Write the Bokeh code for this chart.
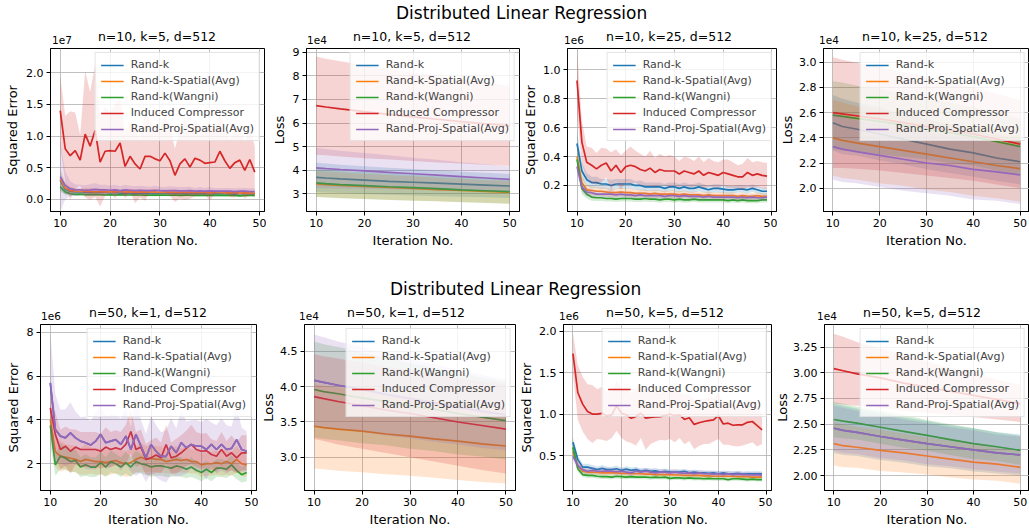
from bokeh.plotting import figure
from bokeh.models import Range1d, FixedTicker, NumeralTickFormatter, Div
from bokeh.layouts import row, column
from bokeh.embed import file_html
from bokeh.resources import INLINE

FONT = "DejaVu Sans"
NAMES = ["Rand-k", "Rand-k-Spatial(Avg)", "Rand-k(Wangni)", "Induced Compressor", "Rand-Proj-Spatial(Avg)"]
COLORS = ["#1f77b4", "#ff7f0e", "#2ca02c", "#d62728", "#9467bd"]
SUPTITLE = "Distributed Linear Regression"

# iterations for squared-error panels and for loss panels
iters_se = list(range(10, 50))
iters_loss = [10, 12, 15, 20, 25, 30, 35, 40, 45, 50]

# ---------------- Panel 1: n=10, k=5 squared error (x1e7) ----------------
p1_blue = [0.30,0.16,0.13,0.12,0.12,0.115,0.11,0.12,0.11,0.11,
           0.105,0.11,0.10,0.105,0.10,0.10,0.105,0.10,0.10,0.095,
           0.10,0.10,0.095,0.10,0.095,0.09,0.095,0.09,0.095,0.09,
           0.09,0.095,0.09,0.09,0.09,0.085,0.09,0.09,0.09,0.09]
p1_orange = [0.32,0.18,0.14,0.13,0.125,0.13,0.125,0.12,0.125,0.12,
             0.12,0.12,0.125,0.115,0.12,0.115,0.12,0.115,0.115,0.12,
             0.11,0.115,0.11,0.115,0.11,0.11,0.115,0.11,0.11,0.11,
             0.105,0.11,0.11,0.105,0.105,0.11,0.10,0.105,0.10,0.10]
p1_green = [0.20,0.12,0.09,0.08,0.085,0.075,0.075,0.08,0.075,0.07,
            0.075,0.07,0.075,0.07,0.07,0.072,0.07,0.068,0.07,0.068,
            0.07,0.068,0.066,0.07,0.065,0.068,0.066,0.065,0.066,0.065,
            0.066,0.064,0.065,0.063,0.064,0.062,0.055,0.062,0.065,0.065]
p1_red = [1.40,0.80,0.69,0.77,0.62,1.03,0.84,1.09,0.59,0.76,
          0.77,0.76,0.89,0.52,0.68,0.56,0.48,0.68,0.68,0.64,
          0.61,0.73,0.61,0.38,0.56,0.64,0.51,0.65,0.62,0.57,
          0.58,0.59,0.76,0.61,0.49,0.58,0.62,0.46,0.63,0.43]
p1_purple = [0.36,0.22,0.17,0.15,0.15,0.145,0.15,0.16,0.15,0.15,
             0.145,0.15,0.14,0.15,0.145,0.14,0.145,0.14,0.14,0.145,
             0.14,0.135,0.14,0.14,0.135,0.135,0.14,0.13,0.135,0.13,
             0.135,0.13,0.13,0.13,0.13,0.125,0.13,0.13,0.125,0.125]
p1_blue_sd = [0.15,0.08,0.05,0.05,0.04,0.04,0.04,0.05,0.04,0.04,
              0.04,0.04,0.045,0.04,0.04,0.04,0.04,0.04,0.035,0.035,
              0.035,0.04,0.035,0.035,0.035,0.03,0.035,0.03,0.03,0.03,
              0.03,0.03,0.03,0.035,0.03,0.03,0.03,0.03,0.03,0.03]
p1_orange_sd = [0.16,0.09,0.06,0.05,0.05,0.05,0.05,0.05,0.045,0.045,
                0.045,0.045,0.045,0.04,0.045,0.04,0.04,0.04,0.04,0.04,
                0.04,0.04,0.04,0.04,0.035,0.035,0.04,0.035,0.035,0.035,
                0.035,0.035,0.035,0.035,0.03,0.035,0.03,0.03,0.03,0.03]
p1_green_sd = [0.08,0.04,0.03,0.025,0.025,0.025,0.025,0.025,0.02,0.02,
               0.02,0.02,0.022,0.02,0.02,0.02,0.02,0.02,0.02,0.02,
               0.02,0.018,0.02,0.02,0.02,0.02,0.018,0.02,0.02,0.018,
               0.02,0.018,0.018,0.02,0.018,0.018,0.018,0.018,0.018,0.018]
p1_red_sd = [0.55,0.52,0.70,0.60,0.40,1.00,0.85,1.05,0.70,0.70,
             0.60,0.75,0.70,0.50,0.55,0.62,0.45,0.70,0.55,0.52,
             0.45,0.60,0.55,0.42,0.55,0.65,0.50,0.60,0.55,0.50,
             0.60,0.50,0.62,0.50,0.45,0.55,0.50,0.45,0.55,0.40]
p1_purple_sd = [0.55,0.22,0.12,0.09,0.08,0.08,0.09,0.10,0.08,0.08,
                0.07,0.08,0.07,0.08,0.07,0.07,0.07,0.07,0.06,0.07,
                0.06,0.06,0.07,0.06,0.06,0.06,0.06,0.05,0.06,0.05,
                0.06,0.05,0.05,0.05,0.05,0.05,0.05,0.05,0.05,0.05]

# ---------------- Panel 2: n=10, k=5 loss (x1e4) ----------------
p2_blue = [3.70,3.67,3.63,3.58,3.53,3.49,3.45,3.41,3.37,3.33]
p2_orange = [3.42,3.39,3.36,3.31,3.27,3.23,3.18,3.14,3.10,3.06]
p2_green = [3.46,3.43,3.39,3.35,3.30,3.26,3.22,3.17,3.13,3.09]
p2_red = [6.74,6.68,6.60,6.48,6.37,6.26,6.16,6.06,5.97,5.88]
p2_purple = [4.10,4.07,4.03,3.97,3.91,3.85,3.79,3.73,3.67,3.61]
p2_blue_sd = [0.62,0.61,0.60,0.59,0.57,0.56,0.55,0.53,0.52,0.51]
p2_orange_sd = [0.55,0.54,0.54,0.53,0.52,0.51,0.50,0.49,0.48,0.48]
p2_green_sd = [0.60,0.59,0.58,0.57,0.56,0.55,0.54,0.53,0.52,0.51]
p2_red_sd = [2.08,2.05,2.02,1.97,1.92,1.87,1.83,1.78,1.74,1.70]
p2_purple_sd = [0.85,0.83,0.80,0.76,0.72,0.68,0.65,0.61,0.58,0.55]

# ---------------- Panel 3: n=10, k=25 squared error (x1e6) ----------------
p3_blue = [0.49,0.30,0.24,0.22,0.22,0.21,0.21,0.20,0.21,0.21,
           0.21,0.21,0.20,0.20,0.19,0.19,0.19,0.19,0.18,0.19,
           0.19,0.18,0.19,0.18,0.18,0.19,0.18,0.17,0.18,0.18,
           0.175,0.17,0.17,0.175,0.175,0.17,0.18,0.17,0.16,0.16]
p3_orange = [0.40,0.22,0.17,0.165,0.16,0.16,0.155,0.15,0.15,0.155,
             0.15,0.15,0.145,0.145,0.145,0.14,0.145,0.14,0.14,0.14,
             0.14,0.135,0.14,0.135,0.135,0.135,0.13,0.135,0.13,0.13,
             0.13,0.13,0.13,0.125,0.13,0.125,0.125,0.13,0.125,0.125]
p3_green = [0.38,0.18,0.14,0.12,0.115,0.115,0.11,0.11,0.105,0.11,
            0.11,0.11,0.105,0.105,0.11,0.105,0.105,0.10,0.105,0.105,
            0.10,0.105,0.10,0.10,0.105,0.10,0.10,0.10,0.10,0.10,
            0.10,0.095,0.10,0.095,0.10,0.095,0.095,0.095,0.10,0.10]
p3_red = [0.926,0.50,0.36,0.34,0.315,0.34,0.355,0.30,0.34,0.29,
          0.33,0.34,0.33,0.31,0.30,0.32,0.29,0.31,0.30,0.30,
          0.30,0.28,0.30,0.29,0.28,0.30,0.27,0.29,0.28,0.27,
          0.29,0.28,0.27,0.26,0.26,0.29,0.27,0.28,0.27,0.265]
p3_purple = [0.33,0.19,0.155,0.15,0.14,0.14,0.14,0.14,0.135,0.14,
             0.135,0.135,0.13,0.135,0.13,0.13,0.13,0.13,0.125,0.13,
             0.13,0.125,0.13,0.125,0.125,0.125,0.12,0.125,0.12,0.12,
             0.12,0.12,0.12,0.115,0.12,0.115,0.12,0.115,0.115,0.12]
p3_blue_sd = [0.09,0.06,0.045,0.04,0.04,0.035,0.035,0.04,0.035,0.035,
              0.035,0.035,0.03,0.035,0.03,0.03,0.03,0.03,0.03,0.03,
              0.03,0.03,0.03,0.03,0.03,0.03,0.028,0.028,0.028,0.028,
              0.028,0.028,0.026,0.026,0.026,0.026,0.026,0.025,0.025,0.025]
p3_orange_sd = [0.07,0.05,0.035,0.03,0.03,0.03,0.03,0.028,0.028,0.028,
                0.028,0.028,0.027,0.027,0.027,0.026,0.026,0.026,0.025,0.025,
                0.025,0.025,0.025,0.024,0.024,0.024,0.024,0.024,0.023,0.023,
                0.023,0.023,0.023,0.022,0.022,0.022,0.022,0.022,0.022,0.022]
p3_green_sd = [0.06,0.04,0.03,0.025,0.022,0.022,0.02,0.02,0.02,0.02,
               0.02,0.02,0.02,0.02,0.02,0.019,0.019,0.019,0.019,0.019,
               0.019,0.019,0.019,0.018,0.018,0.018,0.018,0.018,0.018,0.018,
               0.018,0.018,0.018,0.018,0.018,0.018,0.018,0.018,0.018,0.018]
p3_red_sd = [0.22,0.15,0.11,0.12,0.11,0.12,0.10,0.13,0.11,0.12,
             0.11,0.13,0.11,0.11,0.10,0.12,0.10,0.11,0.10,0.11,
             0.10,0.09,0.10,0.10,0.09,0.10,0.09,0.10,0.09,0.09,
             0.09,0.10,0.09,0.08,0.09,0.10,0.09,0.09,0.09,0.09]
p3_purple_sd = [0.05,0.035,0.03,0.028,0.025,0.025,0.025,0.025,0.024,0.024,
                0.024,0.024,0.023,0.023,0.023,0.023,0.022,0.022,0.022,0.022,
                0.022,0.022,0.021,0.021,0.021,0.021,0.021,0.02,0.02,0.02,
                0.02,0.02,0.02,0.02,0.02,0.02,0.02,0.02,0.02,0.02]

# ---------------- Panel 4: n=10, k=25 loss (x1e4) ----------------
p4_blue = [2.52,2.49,2.47,2.43,2.39,2.35,2.31,2.28,2.24,2.21]
p4_orange = [2.40,2.38,2.36,2.33,2.30,2.27,2.24,2.21,2.18,2.155]
p4_green = [2.58,2.57,2.555,2.53,2.50,2.47,2.44,2.41,2.37,2.33]
p4_red = [2.60,2.59,2.575,2.55,2.52,2.49,2.46,2.43,2.39,2.35]
p4_purple = [2.33,2.31,2.29,2.26,2.23,2.20,2.18,2.15,2.13,2.105]
p4_blue_sd = [0.22,0.22,0.21,0.21,0.20,0.20,0.19,0.19,0.18,0.18]
p4_orange_sd = [0.30,0.30,0.29,0.29,0.28,0.28,0.27,0.27,0.26,0.26]
p4_green_sd = [0.27,0.27,0.26,0.26,0.25,0.24,0.24,0.23,0.23,0.22]
p4_red_sd = [0.44,0.43,0.42,0.41,0.40,0.39,0.38,0.37,0.36,0.35]
p4_purple_sd = [0.26,0.26,0.25,0.25,0.25,0.24,0.24,0.24,0.23,0.23]

# ---------------- Panel 5: n=50, k=1 squared error (x1e6) ----------------
# Rand-k lies under Rand-Proj-Spatial(Avg) in the k=1 panels (no separate band visible)
p5_blue = [5.69,3.56,3.26,3.18,3.41,3.18,3.03,2.96,2.85,3.03,
           3.34,2.96,3.03,3.10,2.88,3.26,2.65,3.34,2.80,2.27,
           2.88,2.57,2.34,2.34,2.80,2.50,2.96,2.73,2.88,2.80,
           2.80,2.65,2.88,2.65,2.88,2.65,2.70,3.10,2.65,2.57]
p5_blue_sd = []
p5_purple = [5.69,3.56,3.26,3.18,3.41,3.18,3.03,2.96,2.85,3.03,
             3.34,2.96,3.03,3.10,2.88,3.26,2.65,3.34,2.80,2.27,
             2.88,2.57,2.34,2.34,2.80,2.50,2.96,2.73,2.88,2.80,
             2.80,2.65,2.88,2.65,2.88,2.65,2.70,3.10,2.65,2.57]
p5_red = [4.55,3.34,2.65,2.80,2.57,2.76,2.65,2.65,2.65,2.65,
          2.57,2.76,2.65,2.73,2.65,2.88,3.47,2.65,2.76,2.20,
          2.27,2.40,2.27,2.88,2.27,2.34,2.50,2.70,2.88,2.65,
          2.57,2.60,2.42,2.34,2.65,2.34,2.50,2.27,2.50,2.50]
p5_orange = [4.00,2.55,2.35,2.30,2.25,2.20,2.10,2.20,2.15,2.10,
             2.10,2.05,2.10,2.15,2.05,2.00,2.05,2.20,2.30,2.20,
             2.25,2.20,2.20,2.10,2.15,2.20,2.15,2.20,2.10,2.10,
             1.95,2.00,2.00,2.05,2.00,2.10,2.00,2.20,2.00,1.95]
p5_green = [3.75,1.95,2.35,2.25,2.10,2.15,1.85,1.95,1.85,1.85,
            2.05,1.85,2.10,2.00,1.85,2.05,1.85,2.10,2.00,1.95,
            1.85,1.90,1.90,1.85,1.80,1.90,1.85,1.75,1.85,1.70,
            1.60,1.75,1.60,1.80,1.80,1.75,1.95,1.70,1.50,1.60]
p5_purple_sd = [2.3,1.6,1.2,1.3,1.4,1.2,1.1,1.2,1.1,1.3,
                1.3,1.2,1.2,1.1,1.2,1.3,1.0,1.9,1.2,1.1,
                1.3,1.2,1.1,1.2,1.3,1.1,1.5,1.2,1.1,1.2,
                1.1,1.4,1.0,1.1,1.2,1.1,1.0,1.5,1.0,0.9]
p5_red_sd = [1.0,1.0,0.9,0.9,1.0,0.8,0.8,0.8,0.8,0.8,
             0.8,0.9,0.8,0.8,0.8,0.9,1.0,0.8,0.8,0.7,
             0.8,0.8,0.7,0.9,0.7,0.8,0.8,0.8,0.9,0.8,
             0.8,0.8,0.7,0.7,0.8,0.7,0.8,0.7,0.8,0.8]
p5_orange_sd = [0.8,0.7,0.7,0.6,0.6,0.6,0.6,0.7,0.6,0.6,
                0.6,0.6,0.6,0.6,0.55,0.6,0.6,0.6,0.65,0.6,
                0.6,0.6,0.6,0.55,0.6,0.6,0.55,0.6,0.55,0.55,
                0.55,0.55,0.55,0.55,0.55,0.6,0.55,0.6,0.55,0.55]
p5_green_sd = [0.9,0.5,0.6,0.5,0.5,0.5,0.45,0.5,0.45,0.45,
               0.5,0.45,0.5,0.45,0.45,0.5,0.45,0.5,0.45,0.45,
               0.45,0.45,0.45,0.45,0.4,0.45,0.45,0.4,0.45,0.4,
               0.4,0.4,0.4,0.4,0.4,0.4,0.45,0.4,0.35,0.4]

# ---------------- Panel 6: n=50, k=1 loss (x1e4) ----------------
p6_blue = [4.09,4.06,4.02,3.96,3.89,3.83,3.77,3.71,3.65,3.60]
p6_blue_sd = []
p6_orange = [3.44,3.42,3.40,3.37,3.33,3.30,3.26,3.23,3.19,3.16]
p6_green = [3.96,3.93,3.90,3.84,3.79,3.73,3.68,3.62,3.57,3.52]
p6_red = [3.86,3.83,3.79,3.73,3.67,3.62,3.56,3.50,3.45,3.40]
p6_purple = [4.09,4.06,4.02,3.96,3.89,3.83,3.77,3.71,3.65,3.60]
p6_orange_sd = [0.60,0.59,0.59,0.58,0.57,0.56,0.55,0.55,0.54,0.53]
p6_green_sd = [0.68,0.67,0.66,0.64,0.62,0.61,0.59,0.58,0.56,0.55]
p6_red_sd = [0.60,0.60,0.61,0.61,0.61,0.62,0.62,0.62,0.63,0.63]
p6_purple_sd = [0.65,0.64,0.62,0.60,0.58,0.56,0.55,0.53,0.52,0.50]

# ---------------- Panel 7: n=50, k=5 squared error (x1e6) ----------------
p7_blue = [0.66,0.45,0.36,0.36,0.345,0.33,0.345,0.33,0.33,0.34,
           0.32,0.335,0.32,0.33,0.31,0.32,0.31,0.315,0.30,0.31,
           0.30,0.30,0.30,0.31,0.29,0.30,0.29,0.29,0.285,0.29,
           0.28,0.29,0.28,0.28,0.285,0.275,0.28,0.28,0.28,0.28]
p7_orange = [0.55,0.38,0.31,0.30,0.30,0.295,0.29,0.29,0.29,0.29,
             0.285,0.285,0.28,0.28,0.28,0.275,0.275,0.27,0.27,0.27,
             0.27,0.265,0.265,0.26,0.26,0.26,0.26,0.255,0.255,0.25,
             0.25,0.25,0.25,0.25,0.245,0.245,0.245,0.24,0.24,0.24]
p7_green = [0.60,0.34,0.27,0.26,0.26,0.25,0.245,0.245,0.24,0.25,
            0.245,0.24,0.245,0.24,0.24,0.24,0.235,0.24,0.235,0.24,
            0.225,0.23,0.23,0.225,0.23,0.225,0.225,0.22,0.225,0.22,
            0.22,0.22,0.21,0.22,0.22,0.215,0.21,0.215,0.21,0.21]
p7_red = [1.73,1.26,1.12,1.03,1.00,1.00,1.01,0.975,0.99,1.10,
          1.01,0.99,0.95,0.97,1.01,0.95,0.96,0.965,0.97,0.98,
          1.00,0.98,0.99,0.935,0.955,0.875,0.895,0.91,0.92,0.93,
          0.98,0.88,0.89,0.865,0.87,0.87,0.90,0.91,0.86,0.81]
p7_purple = [0.49,0.38,0.33,0.31,0.32,0.31,0.31,0.315,0.31,0.305,
             0.31,0.30,0.29,0.31,0.30,0.31,0.30,0.29,0.30,0.30,
             0.29,0.30,0.29,0.285,0.29,0.28,0.29,0.28,0.28,0.275,
             0.28,0.27,0.28,0.27,0.275,0.27,0.27,0.265,0.27,0.26]
p7_blue_sd = [0.06,0.05,0.04,0.04,0.04,0.035,0.04,0.035,0.035,0.035,
              0.035,0.035,0.035,0.035,0.033,0.033,0.033,0.033,0.032,0.032,
              0.032,0.032,0.031,0.031,0.031,0.031,0.03,0.03,0.03,0.03,
              0.03,0.03,0.03,0.03,0.03,0.029,0.029,0.029,0.029,0.029]
p7_orange_sd = [0.05,0.04,0.035,0.03,0.03,0.03,0.03,0.03,0.03,0.03,
                0.029,0.029,0.029,0.028,0.028,0.028,0.028,0.027,0.027,0.027,
                0.027,0.027,0.026,0.026,0.026,0.026,0.026,0.025,0.025,0.025,
                0.025,0.025,0.025,0.025,0.025,0.025,0.025,0.025,0.025,0.025]
p7_green_sd = [0.06,0.04,0.03,0.03,0.03,0.028,0.028,0.028,0.027,0.027,
               0.027,0.027,0.026,0.026,0.026,0.026,0.026,0.025,0.025,0.025,
               0.025,0.025,0.025,0.025,0.025,0.025,0.024,0.024,0.024,0.024,
               0.024,0.024,0.024,0.024,0.024,0.024,0.023,0.023,0.023,0.023]
p7_red_sd = [0.25,0.33,0.33,0.33,0.35,0.30,0.32,0.30,0.28,0.30,
             0.30,0.32,0.30,0.35,0.30,0.38,0.32,0.30,0.28,0.30,
             0.30,0.32,0.28,0.30,0.28,0.30,0.28,0.27,0.28,0.26,
             0.28,0.25,0.26,0.25,0.26,0.25,0.26,0.25,0.25,0.17]
p7_purple_sd = [0.05,0.045,0.04,0.04,0.04,0.04,0.04,0.04,0.04,0.04,
                0.04,0.038,0.038,0.038,0.038,0.038,0.037,0.037,0.037,0.037,
                0.036,0.036,0.036,0.036,0.036,0.035,0.035,0.035,0.035,0.035,
                0.035,0.035,0.035,0.034,0.034,0.034,0.034,0.034,0.034,0.034]

# ---------------- Panel 8: n=50, k=5 loss (x1e4) ----------------
p8_blue = [2.46,2.44,2.42,2.38,2.345,2.31,2.28,2.25,2.22,2.20]
p8_orange = [2.31,2.29,2.275,2.245,2.22,2.19,2.16,2.13,2.11,2.08]
p8_green = [2.545,2.53,2.51,2.47,2.43,2.39,2.35,2.31,2.28,2.245]
p8_red = [3.04,3.02,2.99,2.95,2.90,2.86,2.82,2.78,2.74,2.70]
p8_purple = [2.46,2.44,2.42,2.38,2.345,2.31,2.28,2.25,2.22,2.20]
p8_blue_sd = [0.24,0.24,0.23,0.23,0.22,0.22,0.21,0.21,0.20,0.20]
p8_orange_sd = [0.21,0.21,0.20,0.20,0.19,0.18,0.18,0.17,0.16,0.16]
p8_green_sd = [0.17,0.17,0.16,0.16,0.16,0.15,0.15,0.15,0.14,0.14]
p8_red_sd = [0.34,0.33,0.31,0.29,0.27,0.25,0.23,0.21,0.195,0.18]
p8_purple_sd = [0.22,0.22,0.21,0.21,0.20,0.20,0.19,0.19,0.18,0.18]

# subplot titles and axis offset texts
titles_row1 = ["n=10, k=5, d=512", "n=10, k=5, d=512", "n=10, k=25, d=512", "n=10, k=25, d=512"]
titles_row2 = ["n=50, k=1, d=512", "n=50, k=1, d=512", "n=50, k=5, d=512", "n=50, k=5, d=512"]
offsets_row1 = ["1e7", "1e4", "1e6", "1e4"]
offsets_row2 = ["1e6", "1e4", "1e6", "1e4"]


def panel(xs, means, sds, xr, yr, yticks, fmt, ylabel,
          width, height, bl, br, bt, bb, ylab_standoff=3):
    p = figure(width=width, height=height, output_backend="svg", toolbar_location=None,
               title=None, x_range=Range1d(*xr), y_range=Range1d(*yr),
               min_border_left=bl, min_border_right=br,
               min_border_top=bt, min_border_bottom=bb)
    p.background_fill_color = "white"
    p.border_fill_color = "white"
    p.outline_line_color = "black"
    p.outline_line_width = 1
    for name, color, m, s in zip(NAMES, COLORS, means, sds):
        x = xs[:len(m)]
        p.line(x, m, line_color=color, line_width=1.7, legend_label=name)
        if len(s) == len(m):
            lo = [a - b for a, b in zip(m, s)]
            hi = [a + b for a, b in zip(m, s)]
            p.varea(x=x, y1=lo, y2=hi, fill_color=color, fill_alpha=0.2)
    p.xaxis.ticker = FixedTicker(ticks=[10, 20, 30, 40, 50])
    p.yaxis.ticker = FixedTicker(ticks=yticks)
    p.yaxis.formatter = NumeralTickFormatter(format=fmt)
    for ax in (p.xaxis[0], p.yaxis[0]):
        ax.major_label_text_font = FONT
        ax.major_label_text_font_size = "11px"
        ax.major_label_text_color = "black"
        ax.axis_label_text_font = FONT
        ax.axis_label_text_font_size = "13px"
        ax.axis_label_text_font_style = "normal"
        ax.axis_label_text_color = "black"
        ax.major_tick_out = 4
        ax.major_tick_in = 0
        ax.minor_tick_out = 0
        ax.minor_tick_in = 0
        ax.axis_line_color = "black"
        ax.major_tick_line_color = "black"
        ax.major_label_standoff = 3
    p.xaxis.axis_label = "Iteration No."
    p.xaxis.axis_label_standoff = 3
    p.yaxis.axis_label = ylabel
    p.yaxis.axis_label_standoff = ylab_standoff
    p.grid.grid_line_color = "#b0b0b0"
    p.grid.grid_line_width = 0.8
    lg = p.legend[0]
    lg.location = "top_right"
    lg.margin = 4
    lg.padding = 5
    lg.spacing = 3
    lg.label_height = 12
    lg.glyph_height = 12
    lg.glyph_width = 23
    lg.label_standoff = 7
    lg.label_text_font = FONT
    lg.label_text_font_size = "11px"
    lg.border_line_color = "#cccccc"
    lg.border_line_width = 1
    lg.background_fill_alpha = 0.8
    return p


def header(height, sup_top, sup_left, title_top, titles, centers, off_top, offsets, off_lefts):
    parts = ['<div style="position:relative;width:1029px;height:%dpx;font-family:\'DejaVu Sans\';'
             'color:black;overflow:visible">' % height]
    parts.append('<div style="position:absolute;left:%dpx;top:%dpx;font-size:17px;line-height:20px;'
                 'white-space:nowrap">%s</div>' % (sup_left, sup_top, SUPTITLE))
    for t, c in zip(titles, centers):
        parts.append('<div style="position:absolute;left:%dpx;top:%dpx;width:200px;text-align:center;'
                     'font-size:12.5px;line-height:15px;white-space:nowrap">%s</div>' % (c - 100, title_top, t))
    for o, l in zip(offsets, off_lefts):
        parts.append('<div style="position:absolute;left:%dpx;top:%dpx;font-size:10.5px;line-height:12px;'
                     'white-space:nowrap">%s</div>' % (l, off_top, o))
    parts.append('</div>')
    return Div(text="".join(parts), width=1029, height=height, margin=(0, 0, 0, 0))


# layout: row 1 frames y 48..211, row 2 frames y 324..490
H1, BT1, BB1 = 222, 2, 57
H2, BT2, BB2 = 209, 2, 41
XR_SE = (8.05, 50.95)
XR_L = (8.0, 52.0)

f1 = panel(iters_se, [p1_blue, p1_orange, p1_green, p1_red, p1_purple],
           [p1_blue_sd, p1_orange_sd, p1_green_sd, p1_red_sd, p1_purple_sd],
           XR_SE, (-0.19, 2.38), [0, 0.5, 1.0, 1.5, 2.0], "0.0", "Squared Error",
           266, H1, 50, 2, BT1, BB1)
f2 = panel(iters_loss, [p2_blue, p2_orange, p2_green, p2_red, p2_purple],
           [p2_blue_sd, p2_orange_sd, p2_green_sd, p2_red_sd, p2_purple_sd],
           XR_L, (2.25, 9.16), [3, 4, 5, 6, 7, 8, 9], "0", "Loss",
           254, H1, 40, 1, BT1, BB1)
f3 = panel(iters_se, [p3_blue, p3_orange, p3_green, p3_red, p3_purple],
           [p3_blue_sd, p3_orange_sd, p3_green_sd, p3_red_sd, p3_purple_sd],
           XR_SE, (0.02, 1.147), [0.2, 0.4, 0.6, 0.8, 1.0], "0.0", "Squared Error",
           257, H1, 43, 1, BT1, BB1, ylab_standoff=2)
f4 = panel(iters_loss, [p4_blue, p4_orange, p4_green, p4_red, p4_purple],
           [p4_blue_sd, p4_orange_sd, p4_green_sd, p4_red_sd, p4_purple_sd],
           XR_L, (1.815, 3.109), [2.0, 2.2, 2.4, 2.6, 2.8, 3.0], "0.0", "Loss",
           252, H1, 41, 0, BT1, BB1, ylab_standoff=1)
f5 = panel(iters_se, [p5_blue, p5_orange, p5_green, p5_red, p5_purple],
           [p5_blue_sd, p5_orange_sd, p5_green_sd, p5_red_sd, p5_purple_sd],
           XR_SE, (0.78, 8.35), [2, 4, 6, 8], "0", "Squared Error",
           258, H2, 40, 2, BT2, BB2)
f6 = panel(iters_loss, [p6_blue, p6_orange, p6_green, p6_red, p6_purple],
           [p6_blue_sd, p6_orange_sd, p6_green_sd, p6_red_sd, p6_purple_sd],
           XR_L, (2.53, 4.88), [3.0, 3.5, 4.0, 4.5], "0.0", "Loss",
           258, H2, 40, 1, BT2, BB2, ylab_standoff=1)
f7 = panel(iters_se, [p7_blue, p7_orange, p7_green, p7_red, p7_purple],
           [p7_blue_sd, p7_orange_sd, p7_green_sd, p7_red_sd, p7_purple_sd],
           XR_SE, (0.078, 2.08), [0.5, 1.0, 1.5, 2.0], "0.0", "Squared Error",
           256, H2, 42, 1, BT2, BB2, ylab_standoff=2)
f8 = panel(iters_loss, [p8_blue, p8_orange, p8_green, p8_red, p8_purple],
           [p8_blue_sd, p8_orange_sd, p8_green_sd, p8_red_sd, p8_purple_sd],
           XR_L, (1.854, 3.47), [2.0, 2.25, 2.5, 2.75, 3.0, 3.25], "0.00", "Loss",
           257, H2, 44, 0, BT2, BB2, ylab_standoff=0)

hdr1 = header(46, 3, 396, 29, titles_row1, [157, 412, 669, 925], 34, offsets_row1, [52, 307, 564, 819])
hdr2 = header(54, 11, 390, 37, titles_row2, [148, 406, 665, 922], 42, offsets_row2, [41, 299, 559, 817])

layout = column(hdr1, row(f1, f2, f3, f4), hdr2, row(f5, f6, f7, f8))
open("out.html", "w").write(file_html(layout, INLINE))
